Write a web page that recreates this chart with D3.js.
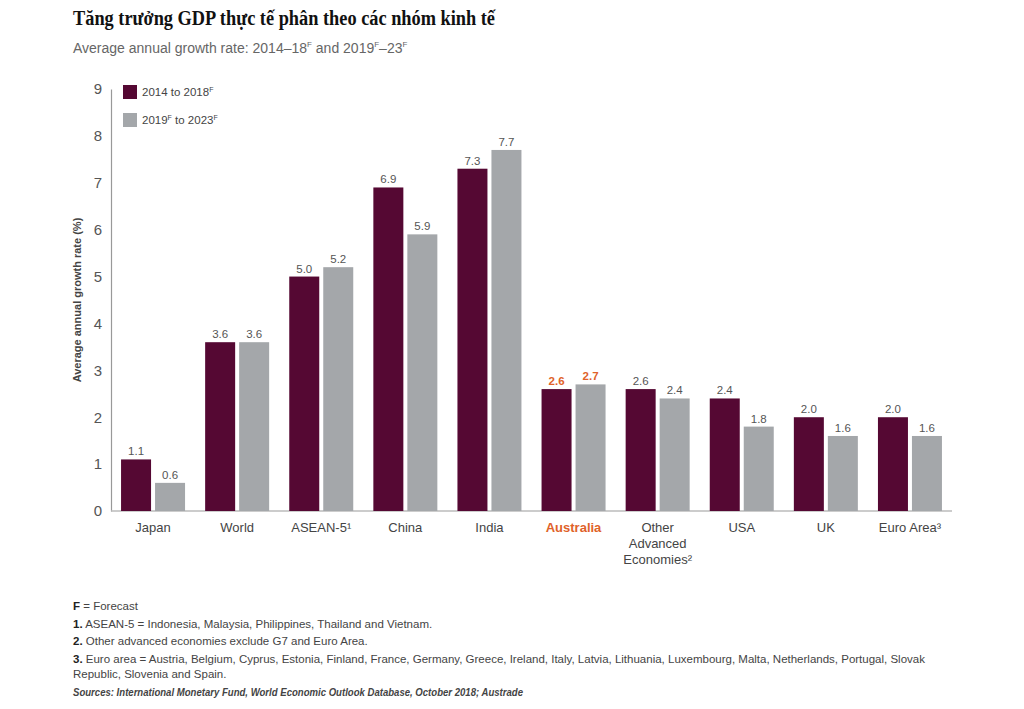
<!DOCTYPE html>
<html><head><meta charset="utf-8">
<script src="https://cdn.jsdelivr.net/npm/d3@7"></script>
<style>body{margin:0;background:#fff}svg{display:block}</style>
</head><body><svg id="c" width="1024" height="709"></svg>
<script>
const categories = ["Japan","World","ASEAN-5","China","India","Australia","Other Advanced Economies","USA","UK","Euro Area"];
const catLabels = [["Japan"],["World"],["ASEAN-5¹"],["China"],["India"],["Australia"],["Other","Advanced","Economies²"],["USA"],["UK"],["Euro Area³"]];
const series1 = [1.1,3.6,5.0,6.9,7.3,2.6,2.6,2.4,2.0,2.0];
const series2 = [0.6,3.6,5.2,5.9,7.7,2.7,2.4,1.8,1.6,1.6];
const yTicks = [0,1,2,3,4,5,6,7,8,9];
const seriesNames = ["2014 to 2018","2019 to 2023"];

const svg = d3.select("#c");
const sans = "Liberation Sans, Arial, sans-serif";
const c1 = "#550833", c2 = "#a4a7aa", hl = "#e0622a";

const x0 = 111, x1 = 952, yb = 511, yt = 89;
const x = d3.scaleBand().domain(categories).range([x0, x1]);
const y = d3.scaleLinear().domain([0, 9]).range([yb, yt]);

svg.append("text").attr("x",73).attr("y",25).attr("font-family","Liberation Serif, serif").attr("font-weight","bold").attr("font-size",20).attr("fill","#111").attr("textLength",422).attr("lengthAdjust","spacingAndGlyphs").text("Tăng trưởng GDP thực tế phân theo các nhóm kinh tế");
const st = svg.append("text").attr("x",73).attr("y",53).attr("font-family",sans).attr("font-size",14).attr("fill","#666");
st.append("tspan").text("Average annual growth rate: 2014–18");
st.append("tspan").attr("font-size",8).attr("dy",-6).text("F");
st.append("tspan").attr("dy",6).text(" and 2019");
st.append("tspan").attr("font-size",8).attr("dy",-6).text("F");
st.append("tspan").attr("dy",6).text("–23");
st.append("tspan").attr("font-size",8).attr("dy",-6).text("F");

// axis
const ya = svg.append("g").attr("transform",`translate(${x0},0)`).call(d3.axisLeft(y).tickValues(yTicks).tickSize(0).tickPadding(9).tickFormat(d3.format("d")));
ya.select(".domain").attr("stroke","#999").attr("stroke-width",1.2);
ya.selectAll("text").attr("font-family",sans).attr("font-size",15).attr("fill","#555");
svg.append("line").attr("x1",x0).attr("x2",x1).attr("y1",yb).attr("y2",yb).attr("stroke","#bbb").attr("stroke-width",1.5);

svg.append("text").attr("transform",`translate(81,${y(4.5)}) rotate(-90)`).attr("text-anchor","middle").attr("font-family",sans).attr("font-size",11).attr("font-weight","bold").attr("fill","#444").text("Average annual growth rate (%)");

const bw = 30;
const g = svg.append("g");
categories.forEach((c,i)=>{
  const cx = x(c) + x.bandwidth()/2;
  const isA = c==="Australia";
  [[series1[i],c1,cx-32],[series2[i],c2,cx+2]].forEach(([v,col,bx])=>{
    g.append("rect").attr("x",bx).attr("y",y(v)).attr("width",bw).attr("height",yb-y(v)).attr("fill",col);
    g.append("text").attr("x",bx+bw/2).attr("y",y(v)-4).attr("text-anchor","middle").attr("font-family",sans).attr("font-size",11.5).attr("font-weight",isA?"bold":"normal").attr("fill",isA?hl:"#555").text(v.toFixed(1));
  });
  const t = g.append("text").attr("x",cx).attr("y",532).attr("text-anchor","middle").attr("font-family",sans).attr("font-size",13).attr("font-weight",isA?"bold":"normal").attr("fill",isA?hl:"#444");
  catLabels[i].forEach((l,j)=>t.append("tspan").attr("x",cx).attr("dy",j?16:0).text(l));
});

// legend
[[c1,seriesNames[0],85],[c2,seriesNames[1],113]].forEach(([col,name,ly])=>{
  svg.append("rect").attr("x",123).attr("y",ly).attr("width",14).attr("height",14).attr("fill",col);
  const t = svg.append("text").attr("x",142).attr("y",ly+11).attr("font-family",sans).attr("font-size",11.5).attr("fill","#444");
  if(name.startsWith("2014")){ t.append("tspan").text("2014 to 2018"); t.append("tspan").attr("font-size",7).attr("dy",-4).text("F"); }
  else { t.append("tspan").text("2019"); t.append("tspan").attr("font-size",7).attr("dy",-4).text("F"); t.append("tspan").attr("dy",4).text(" to 2023"); t.append("tspan").attr("font-size",7).attr("dy",-4).text("F"); }
});

// footnotes
const fn = [
  [["F","b"],[" = Forecast",""]],
  [["1.","b"],[" ASEAN-5 = Indonesia, Malaysia, Philippines, Thailand and Vietnam.",""]],
  [["2.","b"],[" Other advanced economies exclude G7 and Euro Area.",""]],
  [["3.","b"],[" Euro area = Austria, Belgium, Cyprus, Estonia, Finland, France, Germany, Greece, Ireland, Italy, Latvia, Lithuania, Luxembourg, Malta, Netherlands, Portugal, Slovak",""]],
  [["Republic, Slovenia and Spain.",""]]
];
const fy = [610,628,645,663,678];
fn.forEach((parts,i)=>{
  const t = svg.append("text").attr("x",73).attr("y",fy[i]).attr("font-family",sans).attr("font-size",11.5).attr("fill","#444");
  parts.forEach(([s,b])=>t.append("tspan").attr("font-weight",b?"bold":"normal").attr("fill",b?"#222":"#444").text(s));
});
svg.append("text").attr("x",73).attr("y",696).attr("font-family",sans).attr("font-size",11.5).attr("font-weight","bold").attr("font-style","italic").attr("fill","#444").attr("textLength",450).attr("lengthAdjust","spacingAndGlyphs").text("Sources: International Monetary Fund, World Economic Outlook Database, October 2018; Austrade");
</script></body></html>
